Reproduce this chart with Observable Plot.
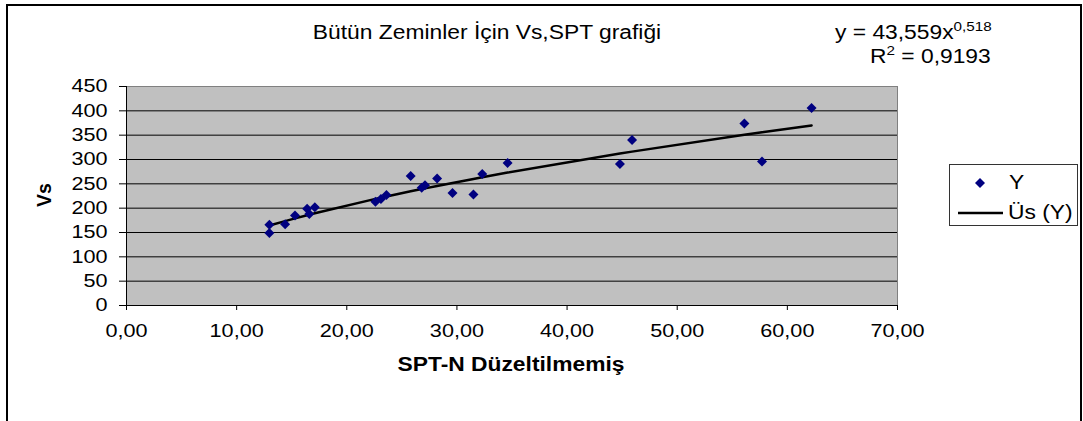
<!DOCTYPE html>
<html><head><meta charset="utf-8">
<script src="https://cdn.jsdelivr.net/npm/d3@7"></script>
<script src="https://cdn.jsdelivr.net/npm/@observablehq/plot@0.6"></script>
<style>
body{margin:0;background:#fff;overflow:hidden;font-family:"Liberation Sans",Arial,sans-serif;color:#000;}
#wrap{position:relative;width:1083px;height:421px;overflow:hidden;background:#fff;}
#wrap svg{position:absolute;left:0;top:0;}
.abs{position:absolute;white-space:nowrap;line-height:1;}
.frame{position:absolute;left:6px;top:4px;width:1072px;height:500px;border:2px solid #000;}
.wide{transform-origin:0 50%;}
</style></head><body><div id="wrap"><div class="frame"></div></div>
<script>
// ---- data ----
const spt = [12.97, 12.97, 14.4, 15.3, 16.4, 16.6, 17.1, 22.6, 23.1, 23.6, 25.8, 26.8, 27.1, 28.2, 29.6, 31.5, 32.3, 34.6, 44.8, 45.9, 56.1, 57.7, 62.2];
const vs  = [166, 149, 167, 185, 199, 188, 202, 213, 219, 227, 266, 242, 247, 261, 231, 228, 270, 293, 291, 340, 374, 296, 406];
const xTicks = [0, 10, 20, 30, 40, 50, 60, 70];
const yTicks = [0, 50, 100, 150, 200, 250, 300, 350, 400, 450];
const trendA = 43.559, trendB = 0.518;   // power trendline shown in the chart
const titleText = "Bütün Zeminler İçin Vs,SPT grafiği";
const xLabel = "SPT-N Düzeltilmemiş";
const yLabel = "Vs";
const seriesName = "Y";
const trendName = "Üs (Y)";
const r2Text = "0,9193";

const points = spt.map((x, i) => ({spt: x, vs: vs[i]}));
const trend = [...spt].sort((a, b) => a - b).map(x => ({x, y: trendA * Math.pow(x, trendB)}));
const fmtX = d => d.toFixed(2).replace(".", ",");
const fmtDec = (v, n) => v.toFixed(n).replace(".", ",");

const chart = Plot.plot({
  width: 1083, height: 421,
  marginLeft: 126, marginRight: 186, marginTop: 86, marginBottom: 116,
  style: {fontFamily: "'Liberation Sans', Arial, sans-serif", fontSize: "18.5px", color: "#000", background: "transparent", overflow: "visible"},
  x: {domain: [0, 70], ticks: xTicks},
  y: {domain: [0, 450], ticks: yTicks},
  marks: [
    Plot.frame({fill: "#c0c0c0", stroke: "#808080"}),
    Plot.ruleY(yTicks.filter(d => d > 0 && d < 450), {stroke: "#000", strokeWidth: 1}),
    Plot.ruleX([0], {stroke: "#000"}),
    Plot.ruleY([0], {stroke: "#000"}),
    Plot.line(trend, {x: "x", y: "y", stroke: "#000", strokeWidth: 2.5}),
    Plot.dot(points, {x: "spt", y: "vs", symbol: "diamond2", r: 4.5, fill: "#000080", stroke: "none"}),
    Plot.axisX({ticks: xTicks, tickSize: 5, tickPadding: 13, tickFormat: fmtX, label: null, stroke: "#000", fontSize: 18.5}),
    Plot.axisY({ticks: yTicks, tickSize: 7, tickPadding: 12, label: null, stroke: "#000", fontSize: 18.5})
  ]
});
const wrap = document.getElementById("wrap");
wrap.insertBefore(chart, wrap.firstChild);
chart.querySelectorAll("text").forEach(t => {
  t.setAttribute("transform", (t.getAttribute("transform") || "") + " scale(1.17,1)");
});

function addDiv(html, css, cls) {
  const d = document.createElement("div");
  d.className = "abs " + (cls || "");
  d.innerHTML = html;
  Object.assign(d.style, css);
  wrap.appendChild(d);
  return d;
}
// title
addDiv(titleText, {left: "487px", top: "33px", fontSize: "19.5px", transform: "translate(-50%,-50%) scaleX(1.17)"});
// equation
addDiv(`y = ${fmtDec(trendA, 3)}x<sup style="font-size:13px;vertical-align:0;position:relative;top:-8px">${fmtDec(trendB, 3)}</sup>`,
  {left: "835px", top: "33px", fontSize: "19.5px", transform: "translateY(-50%) scaleX(1.17)"}, "wide");
addDiv(`R<sup style="font-size:13px;vertical-align:0;position:relative;top:-8px">2</sup> = ${r2Text}`,
  {left: "870px", top: "57px", fontSize: "19.5px", transform: "translateY(-50%) scaleX(1.17)"}, "wide");
// axis titles
addDiv(xLabel, {left: "511px", top: "365px", fontSize: "19.5px", fontWeight: "bold", transform: "translate(-50%,-50%) scaleX(1.17)"});
addDiv(yLabel, {left: "45px", top: "195px", fontSize: "19.5px", fontWeight: "bold", transform: "translate(-50%,-50%) rotate(-90deg)"});
// legend
const lg = addDiv("", {left: "949px", top: "164px", width: "127px", height: "60px", border: "1px solid #333", background: "#fff"});
lg.innerHTML = `
<svg width="127" height="60" style="position:absolute;left:0;top:0">
  <path d="M30,13 L35,18 L30,23 L25,18 Z" fill="#000080"/>
  <line x1="8" y1="48" x2="53" y2="48" stroke="#000" stroke-width="2.5"/>
</svg>
<div class="abs wide" style="left:59px;top:18px;font-size:19.5px;transform:translateY(-50%) scaleX(1.17)">${seriesName}</div>
<div class="abs wide" style="left:58px;top:48px;font-size:19.5px;transform:translateY(-50%) scaleX(1.17)">${trendName}</div>`;
</script></body></html>
